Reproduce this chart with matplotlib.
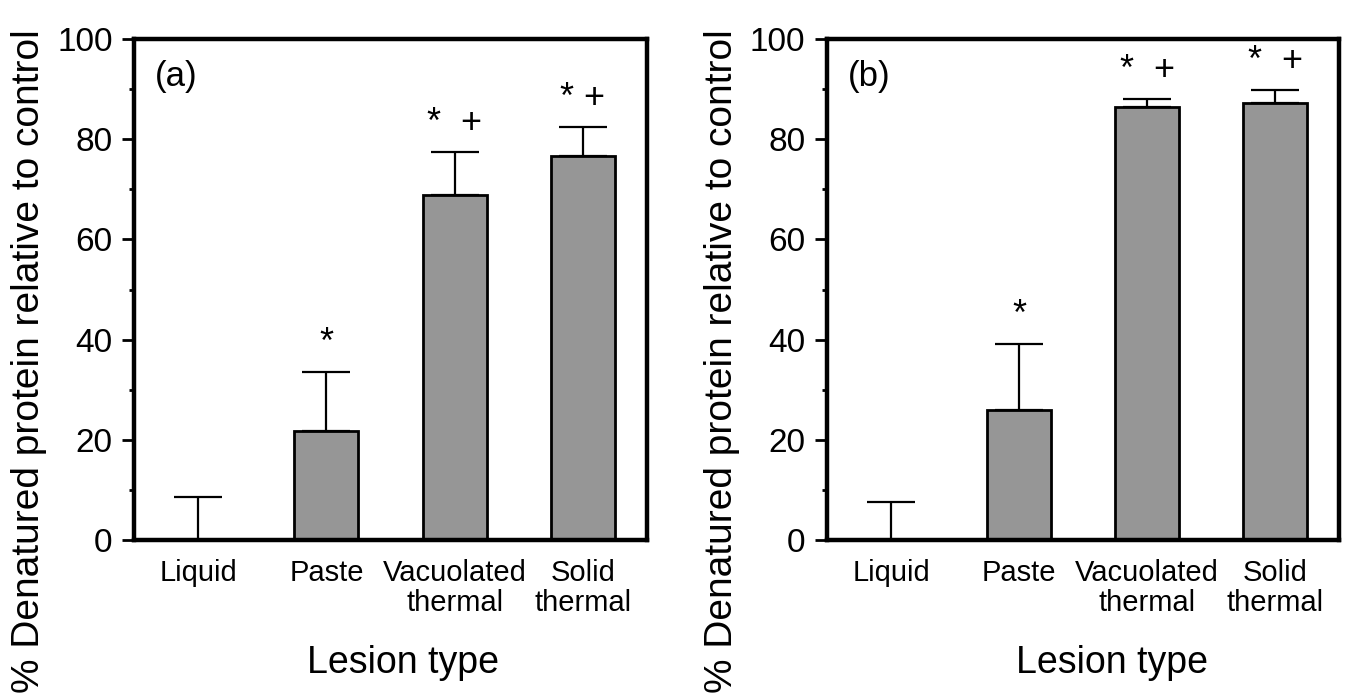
import matplotlib
matplotlib.use("Agg")
import matplotlib.pyplot as plt
from matplotlib.ticker import MultipleLocator

plt.rcParams["font.family"] = ["Liberation Sans", "DejaVu Sans"]

# lesion categories
categories = ["Liquid", "Paste", "Vacuolated\nthermal", "Solid\nthermal"]

# panel (a)
vals_a = [0.0, 21.8, 68.8, 76.6]
errs_a = [8.5, 11.8, 8.7, 5.9]
marks_a = ["", "*", "*  +", "* +"]

# panel (b)
vals_b = [0.0, 26.0, 86.5, 87.3]
errs_b = [7.5, 13.1, 1.5, 2.6]
marks_b = ["", "*", "*  +", "*  +"]

ylabel = "% Denatured protein relative to control"
xlabel = "Lesion type"

fig = plt.figure(figsize=(13.54, 6.94), dpi=100)
ax_a = fig.add_axes([0.099, 0.2219, 0.3789, 0.7219])
ax_b = fig.add_axes([0.6108, 0.2219, 0.3782, 0.7219])


def draw_panel(ax, vals, errs, marks, tag):
    x = list(range(1, len(categories) + 1))
    ax.bar(x, vals, width=0.5, color="#969696", edgecolor="black", linewidth=2.0, zorder=2)
    ax.errorbar(x, vals, yerr=[[0] * len(errs), errs], fmt="none", ecolor="black",
                elinewidth=1.6, capsize=17, capthick=1.6, zorder=3)
    for xi, v, e, m in zip(x, vals, errs, marks):
        if m:
            ax.text(xi, v + e + 3.8, m, ha="center", va="baseline", fontsize=26)
    ax.set_xlim(0.5, 4.5)
    ax.set_ylim(0, 100)
    ax.set_xticks(x)
    ax.set_xticklabels(categories, fontsize=21, linespacing=1.05)
    ax.tick_params(axis="x", length=0, pad=14)
    ax.yaxis.set_major_locator(MultipleLocator(20))
    ax.yaxis.set_minor_locator(MultipleLocator(10))
    ax.tick_params(axis="y", which="major", direction="out", length=8.5, width=2,
                   labelsize=24, pad=7)
    ax.tick_params(axis="y", which="minor", direction="out", length=3.5, width=2)
    for s in ax.spines.values():
        s.set_linewidth(3.2)
    ax.text(0.04, 0.926, tag, transform=ax.transAxes, fontsize=25, ha="left", va="center")


draw_panel(ax_a, vals_a, errs_a, marks_a, "(a)")
draw_panel(ax_b, vals_b, errs_b, marks_b, "(b)")

# axis titles
fig.text(0.0214, 0.002, ylabel, rotation=90, ha="center", va="bottom", fontsize=28)
fig.text(0.533, 0.002, ylabel, rotation=90, ha="center", va="bottom", fontsize=28)
fig.text(0.2976, 0.0303, xlabel, ha="center", va="baseline", fontsize=27)
fig.text(0.8213, 0.0303, xlabel, ha="center", va="baseline", fontsize=27)

fig.savefig("out.png", dpi=100)
